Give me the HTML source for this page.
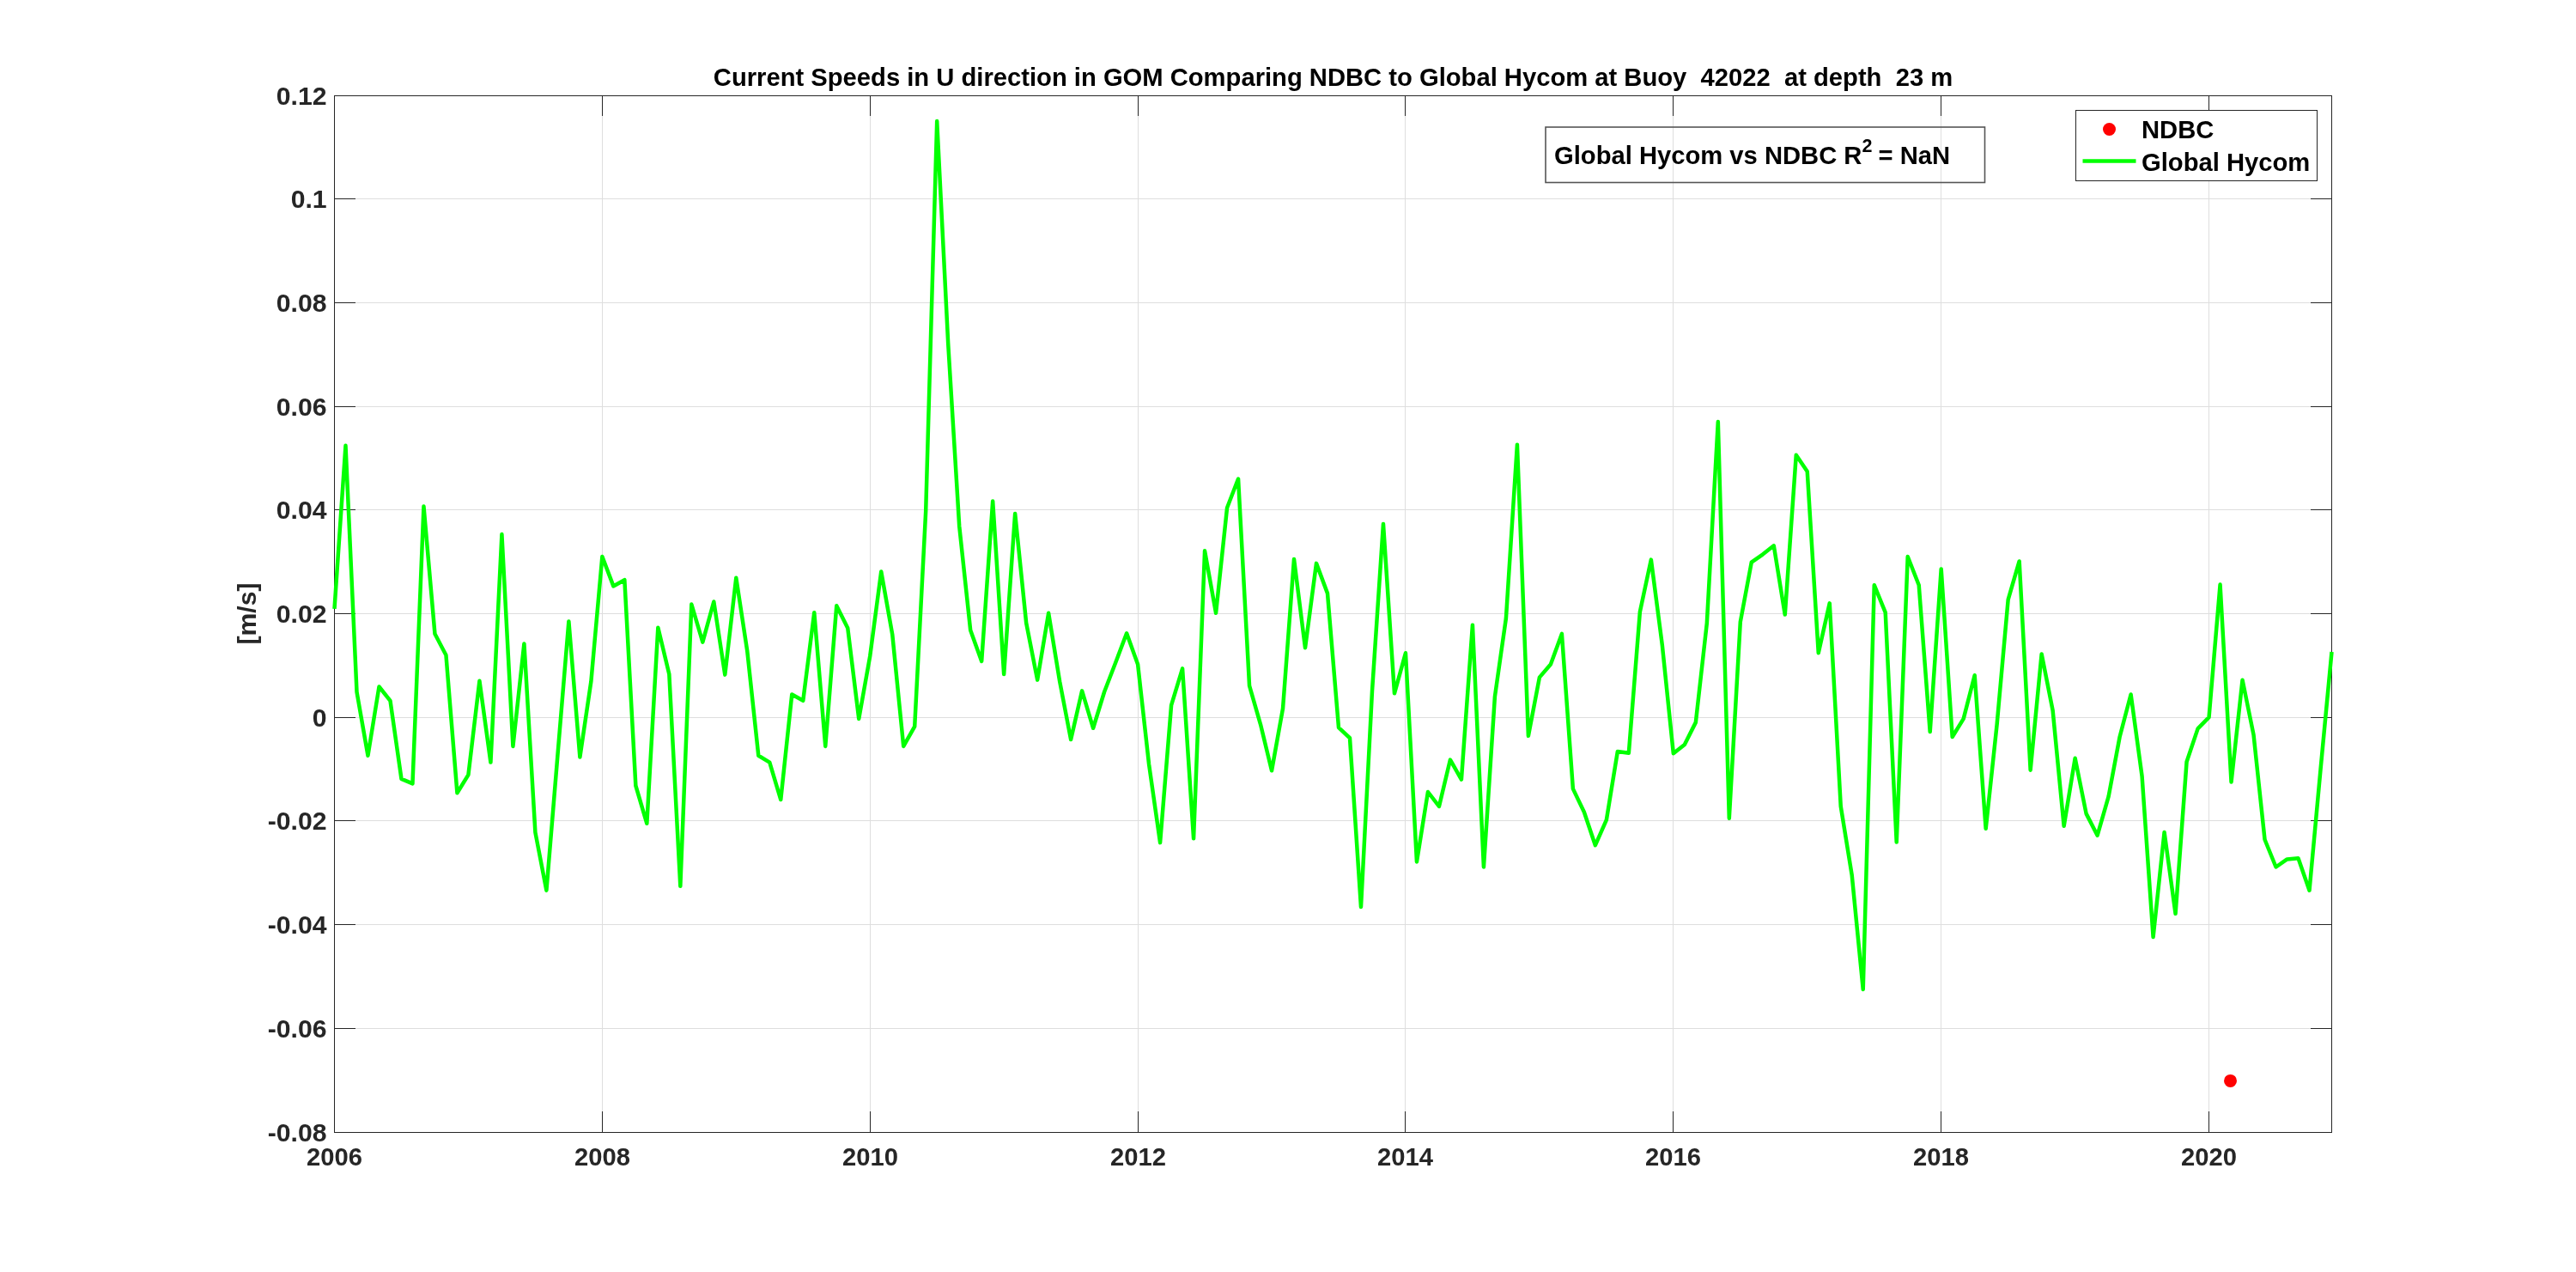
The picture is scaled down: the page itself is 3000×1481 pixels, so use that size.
<!DOCTYPE html>
<html><head><meta charset="utf-8"><style>html,body{margin:0;padding:0;background:#fff;width:3000px;height:1481px;overflow:hidden}text{white-space:pre}</style></head>
<body><div style="position:absolute;left:0;top:0;width:3000px;height:1481px;will-change:transform;opacity:0.999"><svg width="3000" height="1481" viewBox="0 0 3000 1481" style="position:absolute;left:0;top:0">
<rect width="3000" height="1481" fill="#fff"/>
<path d="M701.5 112V1318 M1013.5 112V1318 M1325.5 112V1318 M1636.5 112V1318 M1948.5 112V1318 M2260.5 112V1318 M2572.5 112V1318 M390 231.5H2715 M390 352.5H2715 M390 473.5H2715 M390 593.5H2715 M390 714.5H2715 M390 835.5H2715 M390 955.5H2715 M390 1076.5H2715 M390 1197.5H2715" stroke="#dedede" stroke-width="1" fill="none" shape-rendering="crispEdges"/>
<path d="M389.5 1319V1294M389.5 111V135 M701.5 1319V1294M701.5 111V135 M1013.5 1319V1294M1013.5 111V135 M1325.5 1319V1294M1325.5 111V135 M1636.5 1319V1294M1636.5 111V135 M1948.5 1319V1294M1948.5 111V135 M2260.5 1319V1294M2260.5 111V135 M2572.5 1319V1294M2572.5 111V135 M389 111.5H414M2716 111.5H2691 M389 231.5H414M2716 231.5H2691 M389 352.5H414M2716 352.5H2691 M389 473.5H414M2716 473.5H2691 M389 593.5H414M2716 593.5H2691 M389 714.5H414M2716 714.5H2691 M389 835.5H414M2716 835.5H2691 M389 955.5H414M2716 955.5H2691 M389 1076.5H414M2716 1076.5H2691 M389 1197.5H414M2716 1197.5H2691 M389 1318.5H414M2716 1318.5H2691" stroke="#262626" stroke-width="1" fill="none" shape-rendering="crispEdges"/>
<rect x="389.5" y="111.5" width="2326" height="1207" fill="none" stroke="#262626" stroke-width="1" shape-rendering="crispEdges"/>
<polyline points="389.50,708.96 402.49,518.86 415.49,805.52 428.48,879.76 441.48,799.49 454.47,815.78 467.47,906.91 480.46,912.34 493.46,589.47 506.45,737.93 519.44,762.68 532.44,923.21 545.43,902.09 558.43,792.85 571.42,887.60 584.42,622.06 597.41,868.89 610.41,749.40 623.40,969.07 636.39,1036.67 649.39,879.76 662.38,723.45 675.38,881.57 688.37,793.45 701.37,648.01 714.36,682.41 727.35,675.17 740.35,914.76 753.34,958.81 766.34,730.69 779.33,785.01 792.33,1031.84 805.32,703.53 818.32,747.59 831.31,700.52 844.30,785.61 857.30,672.75 870.29,758.45 883.29,879.76 896.28,887.60 909.28,931.05 922.27,808.54 935.27,815.78 948.26,713.19 961.25,868.89 974.25,705.34 987.24,731.29 1000.24,836.91 1013.23,763.88 1026.23,665.51 1039.22,738.54 1052.22,868.89 1065.21,845.96 1078.20,594.90 1091.20,141.07 1104.19,399.97 1117.19,612.40 1130.18,733.71 1143.18,769.92 1156.17,583.44 1169.16,785.01 1182.16,597.92 1195.15,725.26 1208.15,791.64 1221.14,713.79 1234.14,793.45 1247.13,861.05 1260.13,804.32 1273.12,847.77 1286.11,805.52 1299.11,771.73 1312.10,737.33 1325.10,773.54 1338.09,890.01 1351.09,981.14 1364.08,821.22 1377.08,778.37 1390.07,976.32 1403.06,641.37 1416.06,713.79 1429.05,591.28 1442.05,557.49 1455.04,798.28 1468.04,843.55 1481.03,897.26 1494.03,824.84 1507.02,651.03 1520.01,754.23 1533.01,655.86 1546.00,690.86 1559.00,847.17 1571.99,859.24 1584.99,1055.98 1597.98,804.92 1610.97,609.99 1623.97,807.34 1636.96,760.26 1649.96,1003.47 1662.95,922.00 1675.95,938.90 1688.94,884.58 1701.94,907.52 1714.93,727.67 1727.92,1009.51 1740.92,810.96 1753.91,719.83 1766.91,517.66 1779.90,856.82 1792.90,788.63 1805.89,773.54 1818.89,737.93 1831.88,918.38 1844.87,945.54 1857.87,984.16 1870.86,954.59 1883.86,874.93 1896.85,876.74 1909.85,712.59 1922.84,651.63 1935.84,751.21 1948.83,877.34 1961.82,867.08 1974.82,841.13 1987.81,725.86 2000.81,491.10 2013.80,952.78 2026.80,724.05 2039.79,654.65 2052.78,645.60 2065.78,635.34 2078.77,715.60 2091.77,529.73 2104.76,549.04 2117.76,760.26 2130.75,702.33 2143.75,938.90 2156.74,1019.16 2169.73,1151.93 2182.73,681.20 2195.72,713.19 2208.72,980.54 2221.71,648.01 2234.71,681.20 2247.70,851.99 2260.70,662.50 2273.69,858.03 2286.68,836.91 2299.68,786.21 2312.67,964.85 2325.67,842.94 2338.66,698.10 2351.66,653.44 2364.65,896.65 2377.65,761.47 2390.64,827.25 2403.63,961.83 2416.63,882.77 2429.62,947.35 2442.62,972.69 2455.61,927.43 2468.61,858.03 2481.60,808.54 2494.59,903.90 2507.59,1090.98 2520.58,969.07 2533.58,1063.82 2546.57,887.00 2559.57,848.37 2572.56,835.10 2585.56,680.60 2598.55,910.53 2611.54,791.64 2624.54,855.62 2637.53,977.52 2650.53,1009.51 2663.52,1000.46 2676.52,999.25 2689.51,1036.67 2702.51,896.05 2715.50,759.06" fill="none" stroke="#0f0" stroke-width="4.5" stroke-linejoin="round" stroke-linecap="butt"/><circle cx="2597.5" cy="1258.4" r="7.5" fill="#f00"/>
<g font-family="Liberation Sans" font-weight="bold" font-size="29.2" fill="#262626">
<text x="389.5" y="1356.5" text-anchor="middle">2006</text>
<text x="701.5" y="1356.5" text-anchor="middle">2008</text>
<text x="1013.5" y="1356.5" text-anchor="middle">2010</text>
<text x="1325.5" y="1356.5" text-anchor="middle">2012</text>
<text x="1636.5" y="1356.5" text-anchor="middle">2014</text>
<text x="1948.5" y="1356.5" text-anchor="middle">2016</text>
<text x="2260.5" y="1356.5" text-anchor="middle">2018</text>
<text x="2572.5" y="1356.5" text-anchor="middle">2020</text>
<text x="380.6" y="122.2" text-anchor="end" font-size="30.2">0.12</text>
<text x="380.6" y="242.2" text-anchor="end" font-size="30.2">0.1</text>
<text x="380.6" y="363.2" text-anchor="end" font-size="30.2">0.08</text>
<text x="380.6" y="484.2" text-anchor="end" font-size="30.2">0.06</text>
<text x="380.6" y="604.2" text-anchor="end" font-size="30.2">0.04</text>
<text x="380.6" y="725.2" text-anchor="end" font-size="30.2">0.02</text>
<text x="380.6" y="846.2" text-anchor="end" font-size="30.2">0</text>
<text x="380.6" y="966.2" text-anchor="end" font-size="30.2">-0.02</text>
<text x="380.6" y="1087.2" text-anchor="end" font-size="30.2">-0.04</text>
<text x="380.6" y="1208.2" text-anchor="end" font-size="30.2">-0.06</text>
<text x="380.6" y="1329.2" text-anchor="end" font-size="30.2">-0.08</text>
<text transform="translate(297.5,714.5) rotate(-90)" text-anchor="middle" font-size="30.2">[m/s]</text>
</g>
<text x="1552.5" y="100" text-anchor="middle" font-family="Liberation Sans" font-weight="bold" font-size="29.2" fill="#000" style="white-space:pre" xml:space="preserve">Current Speeds in U direction in GOM Comparing NDBC to Global Hycom at Buoy  42022  at depth  23 m</text>
<rect x="1800" y="148" width="511.5" height="64.5" fill="none" stroke="#555" stroke-width="1.6"/>
<text x="1810" y="190.8" font-family="Liberation Sans" font-weight="bold" font-size="29.2" fill="#000" xml:space="preserve">Global Hycom vs NDBC R<tspan font-size="21.5" dy="-13.8">2</tspan><tspan dy="13.8" dx="-1"> = NaN</tspan></text>
<rect x="2417.5" y="128.5" width="281" height="82" fill="#fff" stroke="#262626" stroke-width="1" shape-rendering="crispEdges"/>
<circle cx="2456.5" cy="150.5" r="7.5" fill="#f00"/>
<path d="M2425.5 187.5H2487.5" stroke="#0f0" stroke-width="4.5"/>
<text x="2494" y="161" font-family="Liberation Sans" font-weight="bold" font-size="29.2" fill="#000">NDBC</text>
<text x="2494" y="199" font-family="Liberation Sans" font-weight="bold" font-size="29.2" fill="#000">Global Hycom</text>
</svg></div>
</body></html>
